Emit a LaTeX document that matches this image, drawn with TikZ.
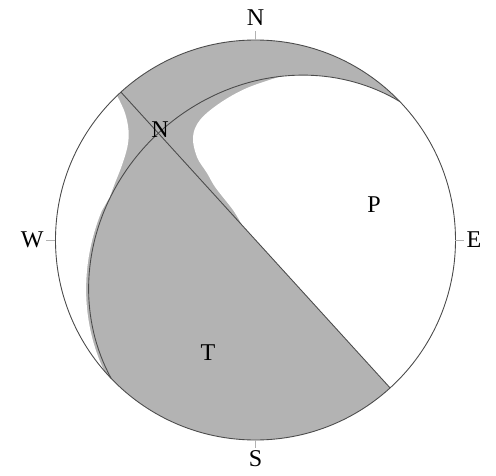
\documentclass[tikz,border=0pt]{standalone}
\usepackage{fontspec}
\setmainfont{Liberation Serif}
\usetikzlibrary{positioning}

\definecolor{quadgray}{RGB}{179,179,179}
\definecolor{planegray}{RGB}{75,75,75}

\begin{document}
\begin{tikzpicture}[
    plane/.style={planegray, line width=0.5pt},
    tickline/.style={gray!60, line width=0.5pt},
    lbl/.style={font=\fontsize{13.7}{16}\selectfont, inner sep=1pt},
    declare function={
      hx(\t)=cos(\t)*cos(43.8)+sin(\t)*cos(28.6)*cos(133.8);
      hy(\t)=cos(\t)*sin(43.8)+sin(\t)*cos(28.6)*sin(133.8);
      rr(\t)=4*sqrt(1-sin(\t)*sin(28.6))/sqrt(hx(\t)^2+hy(\t)^2);
    }]
  \useasboundingbox (-5.11,-4.72) rectangle (4.81,4.8);
  \coordinate (O) at (0,0);
  \coordinate (p1a) at (132.3:4);
  \coordinate (p1b) at (312.3:4);

  \fill[quadgray] (O) circle[radius=4];
  \fill[white] (p1b) arc[start angle=312.3, end angle=403.8, radius=4]
    -- plot[domain=0:40, samples=30, variable=\t] ({rr(\t)*hx(\t)},{rr(\t)*hy(\t)})
    -- plot[smooth, tension=0.6] coordinates {(0.5,3.27) (-0.17,3.04) (-0.71,2.74)
       (-1.11,2.40) (-1.25,2.06) (-1.17,1.66) (-0.97,1.34) (-0.8,1.05) (-0.45,0.6) (-0.27,0.30)}
    -- cycle;
  \fill[white] (133.8:4) arc[start angle=133.8, end angle=223.8, radius=4]
    -- plot[domain=180:122, samples=30, variable=\t] ({1.015*rr(\t)*hx(\t)},{1.015*rr(\t)*hy(\t)})
    -- plot[smooth, tension=0.6] coordinates {(-2.91,0.87) (-2.81,1.14) (-2.68,1.47)
       (-2.56,1.87) (-2.54,2.2) (-2.61,2.54) (-2.74,2.83)}
    -- cycle;

  \draw[plane] (p1a) -- (p1b);
  \draw[plane] plot[domain=0:180, samples=91, variable=\t] ({rr(\t)*hx(\t)},{rr(\t)*hy(\t)});
  \draw[plane] (O) circle[radius=4];

  \coordinate (tN) at (0,4.18);
  \coordinate (tS) at (0,-4.16);
  \coordinate (tW) at (-4.18,0);
  \coordinate (tE) at (4.18,0);
  \draw[tickline] (0,4) -- (tN);
  \draw[tickline] (0,-4) -- (tS);
  \draw[tickline] (-4,0) -- (tW);
  \draw[tickline] (4,0) -- (tE);
  \node[lbl, above=1.7pt of tN] (lN) {N};
  \node[lbl, below=0pt of tS] (lS) {S};
  \node[lbl, left=0.5pt of tW] (lW) {W};
  \node[lbl, right=0pt of tE] (lE) {E};

  \node[lbl] (nul) at (-1.91,2.2) {N};
  \node[lbl] (pax) at (2.37,0.70) {P};
  \node[lbl] (tax) at (-0.95,-2.25) {T};
\end{tikzpicture}
\end{document}
